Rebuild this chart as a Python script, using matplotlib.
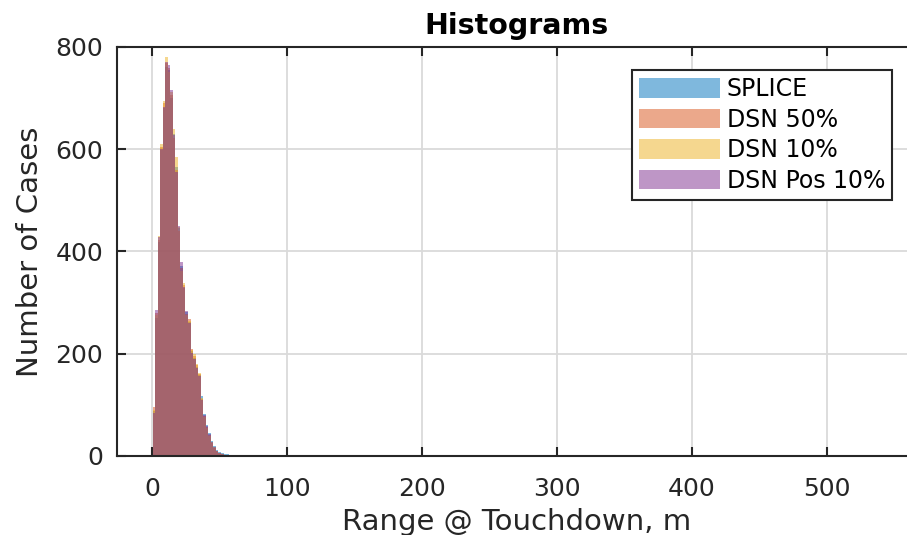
import numpy as np
import matplotlib
matplotlib.use('Agg')
import matplotlib.pyplot as plt

# histogram bins (m) and counts per series
bin_start = 0.4
bin_width = 1.88
splice = [88, 270, 418, 598, 680, 760, 755, 700, 630, 565, 445, 372, 328, 282, 262, 206, 192, 175,
          158, 118, 82, 60, 45, 30, 20, 12, 7, 5, 3, 3, 2, 2, 1, 2, 1, 1]
dsn50 = [96, 280, 422, 605, 690, 768, 758, 706, 622, 560, 440, 368, 334, 278, 268, 210, 196, 178,
         160, 112, 78, 56, 42, 26, 16, 9, 5, 3, 2, 1, 1, 1, 0, 1, 0, 0]
dsn10 = [90, 275, 430, 610, 695, 780, 752, 712, 640, 585, 448, 362, 338, 276, 264, 208, 199, 180,
         163, 114, 76, 55, 40, 27, 17, 10, 5, 3, 2, 1, 1, 0, 1, 0, 0, 0]
dsnpos10 = [85, 285, 428, 600, 682, 770, 765, 715, 628, 555, 450, 380, 330, 284, 260, 202, 190, 172,
            156, 110, 80, 58, 43, 28, 18, 10, 6, 3, 2, 2, 1, 1, 0, 0, 1, 0]

labels = ['SPLICE', 'DSN 50%', 'DSN 10%', 'DSN Pos 10%']
colors = ['#0072BD', '#D95319', '#EDB120', '#7E2F8E']
txt = '#262626'

fig = plt.figure(figsize=(9.07, 5.35), dpi=100)
ax = fig.add_axes([0.129, 0.1477, 0.882, 0.7645])

for counts, lab, col in zip([splice, dsn50, dsn10, dsnpos10], labels, colors):
    left = bin_start + bin_width * np.arange(len(counts))
    ax.bar(left, counts, width=bin_width, align='edge', color=col, alpha=0.5,
           linewidth=0, label=lab)

ax.set_xlim(-25.9, 566.7)
ax.set_ylim(0, 800)
ax.set_xticks([0, 100, 200, 300, 400, 500])
ax.set_yticks([0, 200, 400, 600, 800])
ax.grid(True, color='#dadada', linewidth=1.3)
ax.set_axisbelow(True)

for s in ['left', 'bottom', 'top']:
    ax.spines[s].set_linewidth(1.5)
    ax.spines[s].set_color(txt)
ax.spines['right'].set_visible(False)
ax.tick_params(direction='in', length=6.5, width=1.5, top=True, labelsize=18, colors=txt)
ax.tick_params(axis='x', pad=15)
ax.tick_params(axis='y', pad=10)

ax.set_title('Histograms', fontsize=20.5, fontweight='bold', pad=9, x=0.5)
ax.set_ylabel('Number of Cases', fontsize=21, color=txt, labelpad=8)
ax.set_xlabel('Range @ Touchdown, m', fontsize=21, color=txt, labelpad=5)

leg = ax.legend(loc='upper left', bbox_to_anchor=(0.644, 0.944), fontsize=17,
                frameon=True, fancybox=False, framealpha=1, borderpad=0.3,
                labelspacing=0.28, handlelength=3.4, handleheight=0.9,
                handletextpad=0.3, borderaxespad=0)
leg.get_frame().set_edgecolor(txt)
leg.get_frame().set_linewidth(1.5)

fig.savefig('out.png', dpi=100)
